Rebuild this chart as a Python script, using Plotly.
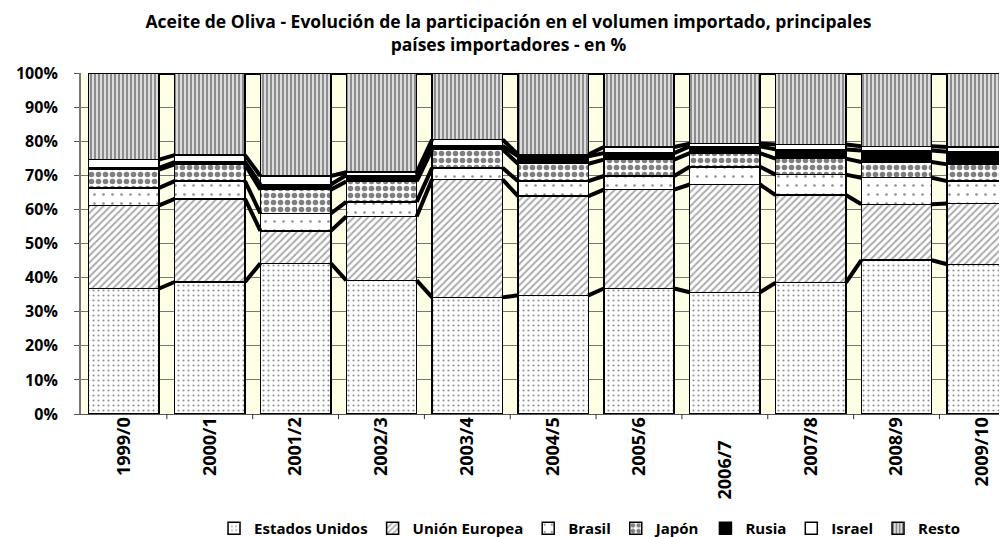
import plotly.graph_objects as go
import numpy as np

categories = ["1999/0", "2000/1", "2001/2", "2002/3", "2003/4", "2004/5",
              "2005/6", "2006/7", "2007/8", "2008/9", "2009/10"]
tick_labels = ["1999/0", "2000/1", "2001/2", "2002/3", "2003/4", "2004/5",
               "2005/6", "2006/7\u00a0\u00a0\u00a0\u00a0\u00a0", "2007/8", "2008/9", "2009/10"]

estados_unidos = [36.8, 38.7, 44.2, 39.2, 34.2, 34.8, 36.8, 35.7, 38.5, 45.1, 43.9]
union_europea  = [24.4, 24.4, 9.5, 18.7, 34.6, 29.1, 29.0, 31.6, 25.7, 16.4, 17.8]
brasil         = [5.1, 5.2, 5.1, 4.3, 3.4, 4.4, 4.0, 5.2, 6.0, 7.8, 6.6]
japon          = [5.4, 4.9, 7.0, 6.0, 5.4, 5.1, 4.8, 4.0, 4.7, 4.6, 4.9]
rusia          = [0.5, 0.7, 1.5, 1.8, 1.0, 2.2, 1.9, 2.0, 2.7, 3.4, 3.7]
israel         = [2.4, 2.0, 2.5, 0.9, 1.9, 0.5, 1.8, 0.8, 1.4, 1.2, 1.4]
resto          = [25.4, 24.1, 30.2, 29.1, 19.5, 23.9, 21.7, 20.7, 21.0, 21.5, 21.7]

series = [
    ("Estados Unidos", estados_unidos, dict(color="white", pattern=dict(shape=".", fgcolor="#222222", bgcolor="white", size=5, solidity=0.15))),
    ("Unión Europea", union_europea, dict(color="white", pattern=dict(shape="/", fgcolor="#555555", bgcolor="white", size=5, solidity=0.4))),
    ("Brasil", brasil, dict(color="white", pattern=dict(shape=".", fgcolor="#222222", bgcolor="white", size=9, solidity=0.07))),
    ("Japón", japon, dict(color="white", pattern=dict(shape=".", fgcolor="black", bgcolor="white", size=7, solidity=0.5))),
    ("Rusia", rusia, dict(color="black")),
    ("Israel", israel, dict(color="white")),
    ("Resto", resto, dict(color="white", pattern=dict(shape="|", fgcolor="#1a1a1a", bgcolor="white", size=4, solidity=0.65))),
]

bargap = 0.18
x_idx = np.arange(len(categories))

fig = go.Figure()
for name, vals, mk in series:
    mk = dict(mk)
    mk["line"] = dict(color="black", width=1.5)
    fig.add_trace(go.Bar(name=name, x=x_idx, y=vals, marker=mk, width=1 - bargap))

# series lines connecting segment tops between bars
cum = np.zeros(len(categories))
half = (1 - bargap) / 2
for name, vals, mk in series:
    cum = cum + np.array(vals)
    xs, ys = [], []
    for i in range(len(categories) - 1):
        xs += [i + half, i + 1 - half, None]
        ys += [cum[i], cum[i + 1], None]
    fig.add_trace(go.Scatter(x=xs, y=ys, mode="lines", showlegend=False, hoverinfo="skip",
                             line=dict(color="black", width=4)))

font_family = "'Open Sans', 'Liberation Sans', sans-serif"

fig.update_layout(
    barmode="stack",
    width=1007, height=537,
    margin=dict(l=73, r=0, t=65, b=130),
    paper_bgcolor="white",
    plot_bgcolor="#FFFFE6",
    font=dict(family=font_family, color="black", size=13, weight="bold"),
    title=dict(text="Aceite de Oliva - Evolución de la participación en el volumen importado, principales<br>países importadores - en %",
               x=0.497, xanchor="center", yref="container", y=0.962, yanchor="top",
               font=dict(size=17.5, family=font_family, weight="bold")),
    legend=dict(orientation="h", x=0.545, xanchor="center", y=-0.335, yanchor="middle",
                font=dict(size=15, family=font_family, weight="bold"),
                itemwidth=30, tracegroupgap=0, traceorder="normal"),
    showlegend=True,
)
fig.update_xaxes(
    type="linear", range=[-0.5, 10.38],
    tickmode="array", tickvals=list(x_idx), ticktext=tick_labels,
    tickangle=-90, showgrid=False, zeroline=False,
    showline=True, linecolor="#555555", linewidth=1,
    ticks="", ticklabelstandoff=-5, tickfont=dict(size=18, weight="bold"),
)
fig.update_yaxes(
    range=[0, 100], tickmode="array",
    tickvals=[0, 10, 20, 30, 40, 50, 60, 70, 80, 90, 100],
    ticktext=["0%", "10%", "20%", "30%", "40%", "50%", "60%", "70%", "80%", "90%", "100%"],
    showgrid=True, gridcolor="#777777", gridwidth=1, zeroline=False,
    showline=True, linecolor="#777777", linewidth=2, mirror=False,
    ticks="outside", ticklen=5, tickcolor="#555555",
    ticklabelstandoff=13,
    tickfont=dict(size=16, weight="bold"),
)
# x ticks at category boundaries
bounds = [i + 0.5 for i in range(len(categories))]
for b in bounds:
    fig.add_shape(type="line", xref="x", yref="paper", x0=b, x1=b, y0=0, y1=-0.015,
                  line=dict(color="#333333", width=1))

fig.write_html("out.html")
